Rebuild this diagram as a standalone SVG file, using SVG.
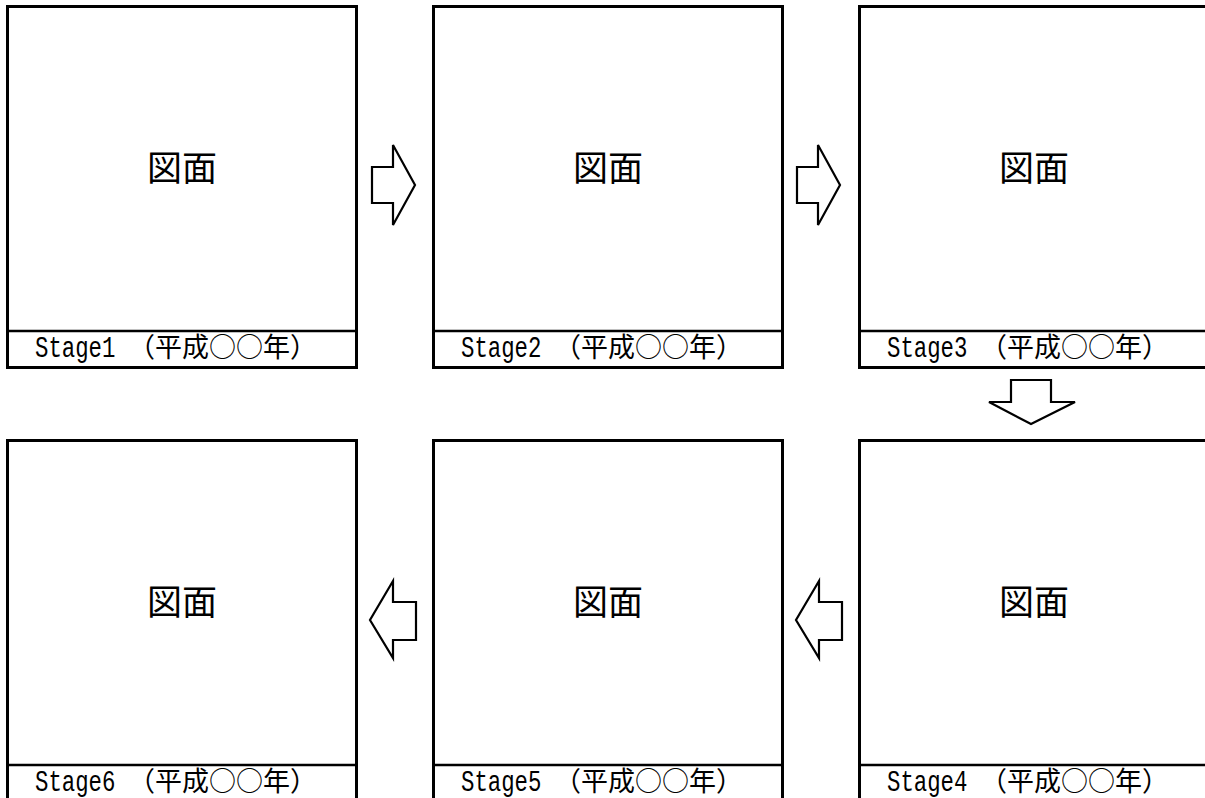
<svg xmlns="http://www.w3.org/2000/svg" width="1205" height="798" viewBox="0 0 1205 798">
<style>
.frame{fill:#fff;stroke:#000;stroke-width:3}
.div{stroke:#000;stroke-width:2.5}
.ttl{font-family:"Noto Sans CJK JP","Noto Sans CJK SC",sans-serif;font-size:35px;text-anchor:middle;fill:#000}
.lat{font-family:"Liberation Mono","DejaVu Sans Mono",monospace;font-size:29px;fill:#000}
.cjk{font-family:"Noto Sans CJK JP","Noto Sans CJK SC",sans-serif;font-size:27px;fill:#000}
.arr{fill:#fff;stroke:#000;stroke-width:2.2;stroke-linejoin:miter}
</style>
<rect width="1205" height="798" fill="#fff"/>
<g id="stage1">
<rect class="frame" x="7.5" y="6.5" width="349" height="361"/>
<line class="div" x1="7" y1="331" x2="356" y2="331"/>
<text class="ttl" x="182" y="181">図面</text>
<text class="lat" transform="translate(35,357) scale(0.77,1)">Stage1</text>
<text class="cjk" x="128" y="357">（平成○○年）</text>
</g>
<g id="stage2">
<rect class="frame" x="433.5" y="6.5" width="349" height="361"/>
<line class="div" x1="433" y1="331" x2="782" y2="331"/>
<text class="ttl" x="608" y="181">図面</text>
<text class="lat" transform="translate(461,357) scale(0.77,1)">Stage2</text>
<text class="cjk" x="554" y="357">（平成○○年）</text>
</g>
<g id="stage3">
<rect class="frame" x="859.5" y="6.5" width="349" height="361"/>
<line class="div" x1="859" y1="331" x2="1208" y2="331"/>
<text class="ttl" x="1034" y="181">図面</text>
<text class="lat" transform="translate(887,357) scale(0.77,1)">Stage3</text>
<text class="cjk" x="980" y="357">（平成○○年）</text>
</g>
<g id="stage4">
<rect class="frame" x="859.5" y="440.5" width="349" height="361"/>
<line class="div" x1="859" y1="765" x2="1208" y2="765"/>
<text class="ttl" x="1034" y="615">図面</text>
<text class="lat" transform="translate(887,791) scale(0.77,1)">Stage4</text>
<text class="cjk" x="980" y="791">（平成○○年）</text>
</g>
<g id="stage5">
<rect class="frame" x="433.5" y="440.5" width="349" height="361"/>
<line class="div" x1="433" y1="765" x2="782" y2="765"/>
<text class="ttl" x="608" y="615">図面</text>
<text class="lat" transform="translate(461,791) scale(0.77,1)">Stage5</text>
<text class="cjk" x="554" y="791">（平成○○年）</text>
</g>
<g id="stage6">
<rect class="frame" x="7.5" y="440.5" width="349" height="361"/>
<line class="div" x1="7" y1="765" x2="356" y2="765"/>
<text class="ttl" x="182" y="615">図面</text>
<text class="lat" transform="translate(35,791) scale(0.77,1)">Stage6</text>
<text class="cjk" x="128" y="791">（平成○○年）</text>
</g>
<g id="connectors">
<polygon class="arr" points="372,167 393,167 393,145 415,185 393,225 393,203 372,203"/>
<polygon class="arr" points="797,167 818,167 818,145 840,185 818,225 818,203 797,203"/>
<polygon class="arr" points="1011,380 1051,380 1051,402 1075,402 1031,424 989,402 1011,402"/>
<polygon class="arr" points="842,602 819,602 819,581 796,620 819,658 819,640 842,640"/>
<polygon class="arr" points="416,602 393,602 393,581 370,620 393,658 393,640 416,640"/>
</g>
</svg>
